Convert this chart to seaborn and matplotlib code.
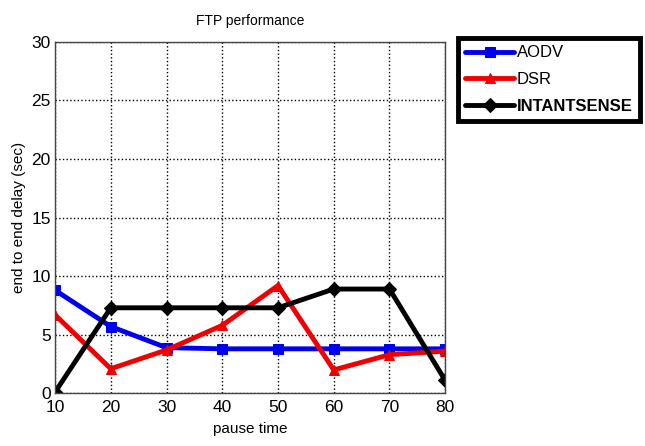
import matplotlib
matplotlib.use("Agg")
import matplotlib.pyplot as plt
from matplotlib import font_manager
import seaborn as sns
import pandas as pd

pause_time = [10, 20, 30, 40, 50, 60, 70, 80]
aodv = [8.8, 5.7, 3.9, 3.8, 3.8, 3.8, 3.8, 3.8]
dsr = [6.7, 2.1, 3.7, 5.8, 9.2, 2.0, 3.3, 3.6]
intantsense = [0.1, 7.3, 7.3, 7.3, 7.3, 8.9, 8.9, 1.1]
protocols = ["AODV", "DSR", "INTANTSENSE"]
y_ticks = [0, 5, 10, 15, 20, 25, 30]

sns.set_style("white")
names = {f.name for f in font_manager.fontManager.ttflist}
narrow = "Liberation Sans Narrow" if "Liberation Sans Narrow" in names else "Liberation Sans"
plt.rcParams["font.family"] = [narrow, "DejaVu Sans"]
plt.rcParams["text.color"] = "black"
plt.rcParams["axes.labelcolor"] = "black"
plt.rcParams["xtick.color"] = "black"
plt.rcParams["ytick.color"] = "black"

df = pd.DataFrame({
    "pause time": pause_time * 3,
    "delay": aodv + dsr + intantsense,
    "protocol": [p for p in protocols for _ in pause_time],
})

fig = plt.figure(figsize=(6.45, 4.46), dpi=100)
ax = fig.add_axes([0.0853, 0.118, 0.605, 0.7885])

styles = {
    "AODV": dict(color="#0000f0", marker="s"),
    "DSR": dict(color="#f00000", marker="^"),
    "INTANTSENSE": dict(color="black", marker="D"),
}
for p in protocols:
    sub = df[df["protocol"] == p]
    sns.lineplot(data=sub, x="pause time", y="delay", ax=ax, label=p,
                 color=styles[p]["color"], marker=styles[p]["marker"],
                 markersize=8.5, linewidth=3.5, markeredgecolor=styles[p]["color"],
                 legend=False)

ax.set_xlim(10, 80)
ax.set_ylim(0, 30)
ax.set_xticks(pause_time)
ax.set_yticks(y_ticks)
ax.tick_params(direction="in", labelsize=12.5, length=4, color="black")
ax.tick_params(axis="x", pad=5)
ax.tick_params(axis="y", pad=3)
ax.grid(True, linestyle=":", color="black", linewidth=1.0)
for s in ax.spines.values():
    s.set_color("#444444")
    s.set_linewidth(1.0)
ax.set_title("FTP performance", fontsize=10, pad=12)
ax.set_xlabel("pause time", fontsize=11, labelpad=5)
ax.set_ylabel("end to end delay (sec)", fontsize=11, labelpad=4)

handles, labels = ax.get_legend_handles_labels()
for h in handles:
    h.set_markersize(7)
leg = fig.legend(handles, labels, loc="upper left", bbox_to_anchor=(0.71, 0.915),
                 frameon=True, fancybox=False, framealpha=1.0, fontsize=12,
                 handlelength=2.9, borderpad=0.45, labelspacing=0.7,
                 handletextpad=0.2, borderaxespad=0)
leg.get_frame().set_edgecolor("black")
leg.get_frame().set_linewidth(3.5)
for t in leg.get_texts():
    t.set_color("black")
    if t.get_text() == "INTANTSENSE":
        t.set_fontweight("bold")

fig.savefig("out.png", dpi=100)
